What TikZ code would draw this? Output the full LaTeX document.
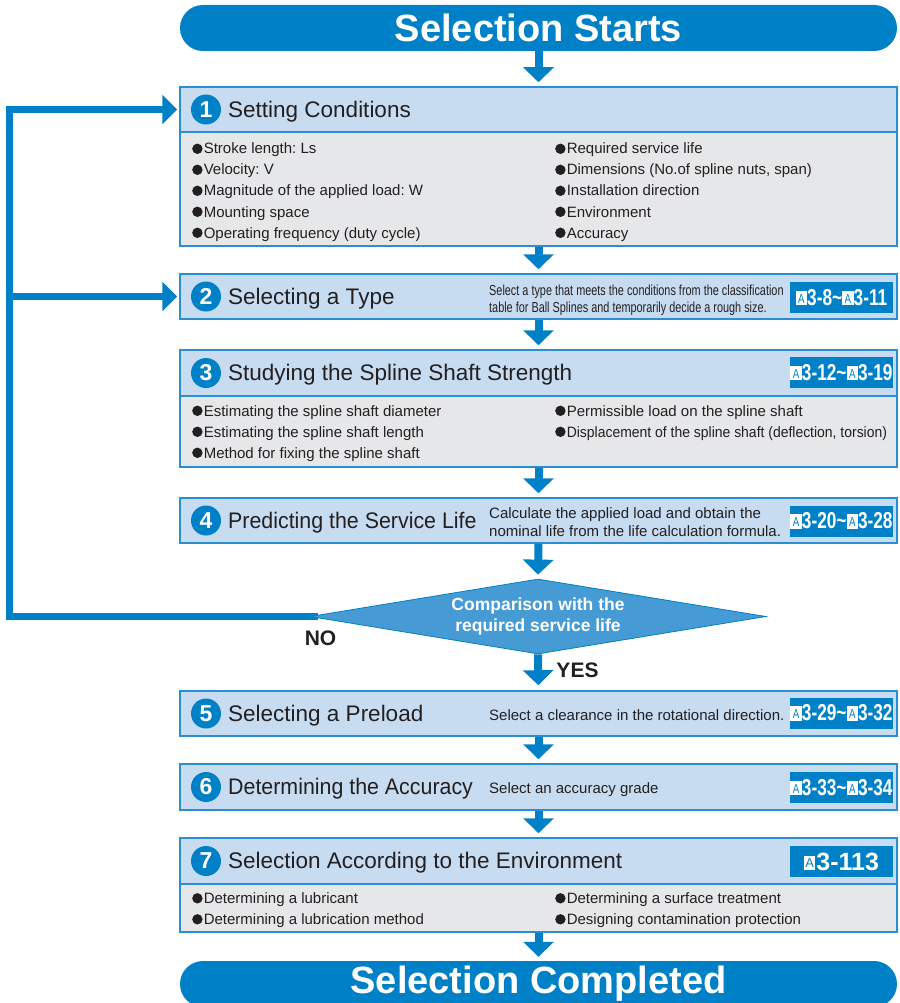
\documentclass[tikz,border=0pt]{standalone}
\usepackage{fontspec}
\setmainfont{Liberation Sans}
\newfontfamily\condfont[FakeStretch=0.75]{Liberation Sans}
\newfontfamily\semicond[FakeStretch=0.95]{Liberation Sans}
\newfontfamily\narrowfont[FakeStretch=0.93]{Liberation Sans}
\usetikzlibrary{arrows.meta,shapes.geometric}
\definecolor{thkblue}{HTML}{0080C7}
\definecolor{hdrblue}{HTML}{C8DCF1}
\definecolor{bodygray}{HTML}{E6E7E8}
\definecolor{bordblue}{HTML}{2B8ED3}
\definecolor{diafill}{HTML}{479BD5}
\definecolor{txt}{HTML}{231F20}
\pgfdeclarelayer{bg}
\pgfsetlayers{bg,main}
\frenchspacing
\newcommand\fsz[1]{\fontsize{#1}{#1}\selectfont}
\newcommand\iconA{{\setlength{\fboxsep}{0pt}\colorbox{white}{\makebox[11.5pt][c]{\rule{0pt}{14.5pt}\raisebox{2.4pt}{\color{thkblue}\mdseries\fontsize{13}{13}\selectfont A}}}}}
\newcommand\reftilde{\textasciitilde}
\newcommand\bull{\tikz[baseline=0pt]\fill[txt] (5.2pt,5.2pt) circle[radius=5.2pt];\hspace{1.2pt}}
\tikzset{
 hdr/.style={draw=bordblue, fill=hdrblue, line width=1.5pt, minimum width=717pt, inner sep=0pt},
 bodyb/.style={draw=bordblue, fill=bodygray, line width=1.5pt, minimum width=717pt, inner sep=0pt},
 banner/.style={fill=thkblue, rounded corners=23pt, minimum width=717pt, minimum height=46pt, text=white, font=\bfseries\fsz{38}, inner sep=0pt},
 numc/.style={circle, fill=thkblue, minimum size=30pt, inner sep=0pt, text=white, font=\bfseries\fsz{23}},
 ttl/.style={anchor=base west, inner sep=0pt, text=txt, font=\fsz{22.5}},
 bul/.style={anchor=base west, inner sep=0pt, text=txt, font=\fsz{15}},
 dsc/.style={anchor=base west, inner sep=0pt, text=txt, font=\fsz{15}},
 cdsc/.style={anchor=base west, inner sep=0pt, text=txt, font=\condfont\fsz{14.5}},
 refbox/.style={fill=thkblue, minimum width=103pt, minimum height=31pt, inner sep=0pt, text=white, font=\condfont\bfseries\fsz{23}},
 downarr/.style={draw=thkblue, line width=8pt, -{Triangle[length=15pt,width=30pt]}, shorten >=4pt},
 backarr/.style={draw=thkblue, line width=7pt, -{Triangle[length=15pt,width=29pt]}, shorten >=2pt},
 decision/.style={diamond, shape aspect=6.08, fill=diafill, draw=thkblue, line width=0.8pt, minimum width=456pt, minimum height=75pt, inner sep=0pt, text=white, align=center, font=\bfseries\fontsize{17.5}{21.5}\selectfont},
 yn/.style={text=txt, font=\bfseries\fsz{21}, inner sep=0pt},
}
\begin{document}
\begin{tikzpicture}[x=1pt,y=-1pt]
\useasboundingbox (0,0) rectangle (899,1003);
\clip (0,0) rectangle (899,1003);

% banners
\node[banner] (start) at (538.5,28) {Selection Starts};
\node[banner, text height=27pt, text depth=9pt] (finish) at (538.5,984) {Selection Completed};

% box 1
\node[bodyb, minimum height=114pt] (g1) at (538.5,189) {};
\node[hdr, minimum height=45pt] (h1) at (538.5,109.5) {};
\node[numc] (n1) at (206,109.5) {1};
\node[ttl] (t1) at (228,117.3) {Setting Conditions};
\node[bul] (a1) at (192,154) {\bull Stroke length: Ls};
\node[bul] (a2) at (192,175) {\bull Velocity: V};
\node[bul] (a3) at (192,196) {\bull Magnitude of the applied load: W};
\node[bul] (a4) at (192,217) {\bull Mounting space};
\node[bul] (a5) at (192,238) {\bull Operating frequency (duty cycle)};
\node[bul] (a6) at (555,154) {\bull Required service life};
\node[bul] (a7) at (555,175) {\bull Dimensions (No.of spline nuts, span)};
\node[bul] (a8) at (555,196) {\bull Installation direction};
\node[bul] (a9) at (555,217) {\bull Environment};
\node[bul] (a10) at (555,238) {\bull Accuracy};

% box 2
\node[hdr, minimum height=45pt] (h2) at (538.5,296.5) {};
\node[numc] (n2) at (206,296.5) {2};
\node[ttl] (t2) at (228,304.3) {Selecting a Type};
\node[cdsc] (d2a) at (489,295.5) {Select a type that meets the conditions from the classification};
\node[cdsc] (d2b) at (489,312) {table for Ball Splines and temporarily decide a rough size.};
\node[refbox] (r2) at (841.5,297.5) {\iconA3-8\reftilde\iconA3-11};

% box 3
\node[bodyb, minimum height=71pt] (g3) at (538.5,431.5) {};
\node[hdr, minimum height=46pt] (h3) at (538.5,373) {};
\node[numc] (n3) at (206,373) {3};
\node[ttl] (t3) at (228,380.8) {Studying the Spline Shaft Strength};
\node[refbox] (r3) at (841.5,372.5) {\iconA3-12\reftilde\iconA3-19};
\node[bul] (c1) at (192,416) {\bull Estimating the spline shaft diameter};
\node[bul] (c2) at (192,437) {\bull Estimating the spline shaft length};
\node[bul] (c3) at (192,458) {\bull Method for fixing the spline shaft};
\node[bul] (c4) at (555,416) {\bull Permissible load on the spline shaft};
\node[bul, font=\narrowfont\fsz{15}] (c5) at (555,437) {\bull Displacement of the spline shaft (deflection, torsion)};

% box 4
\node[hdr, minimum height=45pt] (h4) at (538.5,520.5) {};
\node[numc] (n4) at (206,520.5) {4};
\node[ttl, font=\semicond\fsz{22.5}] (t4) at (228,528.3) {Predicting the Service Life};
\node[dsc] (d4a) at (489,518) {Calculate the applied load and obtain the};
\node[dsc] (d4b) at (489,536) {nominal life from the life calculation formula.};
\node[refbox] (r4) at (841.5,521) {\iconA3-20\reftilde\iconA3-28};

% decision
\node[decision] (dec) at (538,616.5) {Comparison with the\\required service life};
\node[yn] (no) at (320.5,638.5) {NO};
\node[yn] (yes) at (577.5,670) {YES};

% box 5
\node[hdr, minimum height=45pt] (h5) at (538.5,713.5) {};
\node[numc] (n5) at (206,713.5) {5};
\node[ttl] (t5) at (228,721.3) {Selecting a Preload};
\node[dsc] (d5) at (489,720) {Select a clearance in the rotational direction.};
\node[refbox] (r5) at (841.5,713) {\iconA3-29\reftilde\iconA3-32};

% box 6
\node[hdr, minimum height=46pt] (h6) at (538.5,787) {};
\node[numc] (n6) at (206,787) {6};
\node[ttl, font=\semicond\fsz{22.5}] (t6) at (228,794.8) {Determining the Accuracy};
\node[dsc] (d6) at (489,793.5) {Select an accuracy grade};
\node[refbox] (r6) at (841.5,787.5) {\iconA3-33\reftilde\iconA3-34};

% box 7
\node[bodyb, minimum height=48pt] (g7) at (538.5,908) {};
\node[hdr, minimum height=46pt] (h7) at (538.5,861) {};
\node[numc] (n7) at (206,861) {7};
\node[ttl] (t7) at (228,868.8) {Selection According to the Environment};
\node[refbox, font=\bfseries\fsz{25}] (r7) at (841.5,861.5) {\iconA\hspace{1pt}3-113};
\node[bul] (e1) at (192,903.5) {\bull Determining a lubricant};
\node[bul] (e2) at (192,924.5) {\bull Determining a lubrication method};
\node[bul] (e3) at (555,903.5) {\bull Determining a surface treatment};
\node[bul] (e4) at (555,924.5) {\bull Designing contamination protection};

% down arrows
\draw[downarr] (start.south) -- (h1.north);
\draw[downarr] (g1.south) -- (h2.north);
\draw[downarr] (h2.south) -- (h3.north);
\draw[downarr] (g3.south) -- (h4.north);
\draw[downarr] (h4.south) -- (dec.north);
\draw[downarr, shorten >=5pt] (dec.south) -- (h5.north);
\draw[downarr] (h5.south) -- (h6.north);
\draw[downarr] (h6.south) -- (h7.north);
\draw[downarr] (g7.south) -- (finish.north);

% feedback loop
\coordinate (lx) at (9.5,110);
\begin{pgfonlayer}{bg}
\draw[backarr] ([xshift=8pt]dec.west) -- (dec.west -| lx) -- (lx |- h1.west) -- (h1.west);
\end{pgfonlayer}
\draw[backarr] (lx |- h2.west) -- (h2.west);
\end{tikzpicture}
\end{document}
